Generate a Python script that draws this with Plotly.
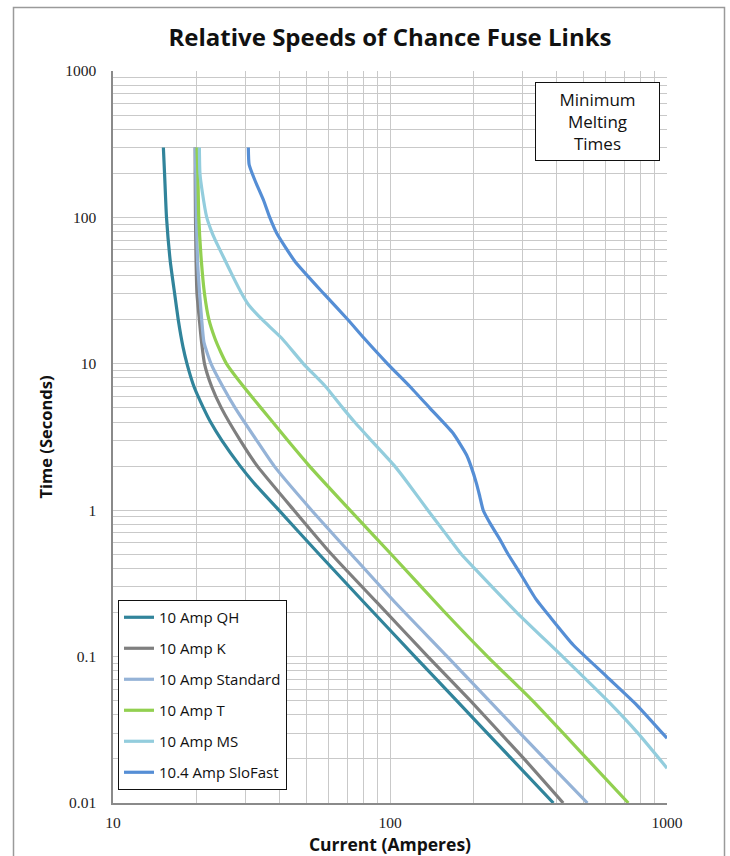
import plotly.graph_objects as go

# ---- data (current in A, time in s) ----
qh_i = [15.2, 15.35, 15.6, 16.1, 16.7, 17.2, 17.9, 18.5, 19.6, 21.2, 22.5, 24.7, 28.8, 32.6, 39.7, 55.5, 80.0, 123.0, 174.0, 275.0, 389.0]
qh_t = [300, 200, 100, 50, 30, 20, 13, 10, 7, 5, 4, 3, 2, 1.5, 1.0, 0.5, 0.238, 0.1, 0.05, 0.02, 0.01]

k_i = [19.8, 19.8, 19.85, 19.95, 20.1, 20.5, 20.8, 21.4, 22.7, 24.6, 28.8, 33.2, 45.0, 61.5, 89.0, 137.0, 195.0, 305.0, 422.0]
k_t = [300, 200, 100, 50, 30, 20, 15, 10, 7, 5, 3, 2, 1, 0.5, 0.238, 0.1, 0.05, 0.02, 0.01]

std_i = [19.8, 19.9, 20.0, 20.2, 20.55, 20.9, 21.3, 22.6, 24.9, 27.6, 33.0, 38.2, 52.1, 72.5, 104.0, 161.0, 228.0, 362.0, 516.0]
std_t = [300, 200, 100, 50, 30, 20, 14, 10, 7, 5, 3, 2, 1, 0.5, 0.236, 0.1, 0.05, 0.02, 0.01]

t_i = [20.1, 20.25, 20.4, 20.85, 21.4, 22.2, 23.3, 24.5, 25.7, 28.0, 31.6, 34.2, 37.7, 42.7, 51.2, 71.7, 101.0, 158.0, 225.0, 327.0, 515.0, 725.0]
t_t = [300, 200, 100, 50, 30, 20, 15, 12, 10, 8, 6, 5, 4, 3, 2, 1, 0.5, 0.2, 0.1, 0.05, 0.02, 0.01]

ms_i = [20.5, 20.6, 21.0, 21.8, 22.7, 23.4, 25.5, 27.0, 29.2, 31.0, 34.6, 40.6, 48.7, 58.5, 67.5, 74.5, 85.5, 104.0, 117.0, 137.0, 158.0, 181.0, 202.0, 287.0, 420.0, 610.0, 785.0, 1000.0]
ms_t = [300, 200, 150, 100, 80, 70, 50, 40, 30, 25, 20, 15, 10, 7, 5, 4, 3, 2, 1.5, 1.0, 0.7, 0.5, 0.4, 0.2, 0.1, 0.05, 0.03, 0.0173]

sf_i = [30.8, 31.0, 32.5, 35.0, 36.8, 39.0, 45.4, 57.8, 70.5, 80.5, 98.0, 118.0, 139.0, 169.0, 189.0, 196.0, 205.0, 211.0, 217.0, 231.0, 250.0, 267.0, 295.0, 335.0, 378.0, 459.0, 606.0, 778.0, 1000.0]
sf_t = [300, 230, 180, 130, 100, 78, 50, 30, 20, 15, 10, 7, 5, 3.35, 2.38, 2.0, 1.53, 1.24, 1.0, 0.8, 0.626, 0.5, 0.371, 0.25, 0.187, 0.12, 0.073, 0.0467, 0.0277]

series_names = ["10 Amp QH", "10 Amp K", "10 Amp Standard", "10 Amp T", "10 Amp MS", "10.4 Amp SloFast"]
series_colors = ["#31849b", "#7f7f7f", "#95b3d7", "#92d050", "#93cddd", "#558ed5"]
series_x = [qh_i, k_i, std_i, t_i, ms_i, sf_i]
series_y = [qh_t, k_t, std_t, t_t, ms_t, sf_t]

# tick / grid values
x_major = [10, 100, 1000]
y_major = [0.01, 0.1, 1, 10, 100, 1000]
x_major_text = ["10", "100", "1000"]
y_major_text = ["0.01", "0.1", "1", "10", "100", "1000"]


def grid_values(decades, last):
    vals = []
    for d in decades:
        for m in range(1, 10):
            vals.append(m * d)
    vals.append(last)
    return vals


def grid_text(vals, majors, labels):
    out = []
    for v in vals:
        lab = ""
        for m, l in zip(majors, labels):
            if abs(v - m) < 1e-9 * max(1.0, m):
                lab = l
        out.append(lab)
    return out


x_grid = grid_values([10, 100], 1000)
y_grid = grid_values([0.01, 0.1, 1, 10, 100], 1000)
x_grid_text = grid_text(x_grid, x_major, x_major_text)
y_grid_text = grid_text(y_grid, y_major, y_major_text)

fig = go.Figure()
for name, col, xs, ys in zip(series_names, series_colors, series_x, series_y):
    fig.add_trace(go.Scatter(
        x=xs, y=ys, name=name, mode="lines", legendgroup=name,
        line=dict(color=col, width=3.2, shape="spline", smoothing=0.5),
        hoverinfo="skip",
    ))

grid = "#c9c9c9"
tick_font = dict(family="Liberation Serif", size=15.5, color="#222")
fig.update_layout(
    width=730, height=856,
    margin=dict(l=113, r=63, t=71, b=53, autoexpand=False),
    paper_bgcolor="white", plot_bgcolor="white",
    title=dict(text="<b>Relative Speeds of Chance Fuse Links</b>",
               font=dict(family="Open Sans", size=24, color="#111"),
               x=0.5, xref="paper", y=0.956, yref="container", xanchor="center", yanchor="middle"),
    showlegend=True,
    legend=dict(x=0.009, y=0.2773, xanchor="left", yanchor="top",
                bgcolor="white", bordercolor="#111", borderwidth=1,
                font=dict(family="Open Sans", size=15, color="#111"),
                tracegroupgap=8.5, traceorder="grouped"),
    # overlay axes carrying only the decade tick marks
    xaxis2=dict(type="log", range=[1, 3], overlaying="x", anchor="y", side="bottom",
                tickmode="array", tickvals=x_major, ticks="outside", ticklen=6,
                tickcolor="#888", tickwidth=1.2, showticklabels=False,
                showgrid=False, showline=False, zeroline=False, automargin=False),
    yaxis2=dict(type="log", range=[-2, 3], overlaying="y", anchor="x", side="left",
                tickmode="array", tickvals=y_major, ticks="outside", ticklen=6,
                tickcolor="#888", tickwidth=1.2, showticklabels=False,
                showgrid=False, showline=False, zeroline=False, automargin=False),
)
fig.update_layout(
    xaxis=dict(
        type="log", range=[1, 3], automargin=False,
        tickmode="array", tickvals=x_grid, ticktext=x_grid_text,
        ticks="", tickfont=tick_font, ticklabelstandoff=5,
        showline=True, linecolor="#8a8a8a", linewidth=1.5,
        showgrid=True, gridcolor=grid, gridwidth=1.4, zeroline=False,
        title=dict(text="<b>Current (Amperes)</b>", standoff=9,
                   font=dict(family="Open Sans", size=17.5, color="#111")),
    ),
    yaxis=dict(
        type="log", range=[-2, 3], automargin=False,
        tickmode="array", tickvals=y_grid, ticktext=y_grid_text,
        ticks="", tickfont=tick_font, ticklabelstandoff=12,
        showline=True, linecolor="#8a8a8a", linewidth=1.5,
        showgrid=True, gridcolor=grid, gridwidth=1.4, zeroline=False,
        title=dict(text="<b>Time (Seconds)</b>", standoff=8,
                   font=dict(family="Open Sans", size=16.5, color="#111")),
    ),
)

# annotation box
fig.add_annotation(
    text="Minimum<br>Melting<br>Times", xref="paper", yref="paper",
    x=(597.5 - 113) / 554, y=(803 - 121.5) / 732, xanchor="center", yanchor="middle",
    showarrow=False, align="center", width=117, height=71,
    font=dict(family="Open Sans", size=17, color="#111"),
    bgcolor="white", bordercolor="#111", borderwidth=1, borderpad=3,
)

# outer chart border
fig.add_shape(type="rect", xref="paper", yref="paper",
              x0=(13.5 - 113) / 554, x1=(724.5 - 113) / 554,
              y0=(803 - 880) / 732, y1=(803 - 7.5) / 732,
              line=dict(color="#9a9a9a", width=1.5), fillcolor="rgba(0,0,0,0)", layer="below")

fig.write_html("out.html", config={"displayModeBar": False},
               post_script="document.body.style.margin='0';document.body.style.overflow='hidden';")
